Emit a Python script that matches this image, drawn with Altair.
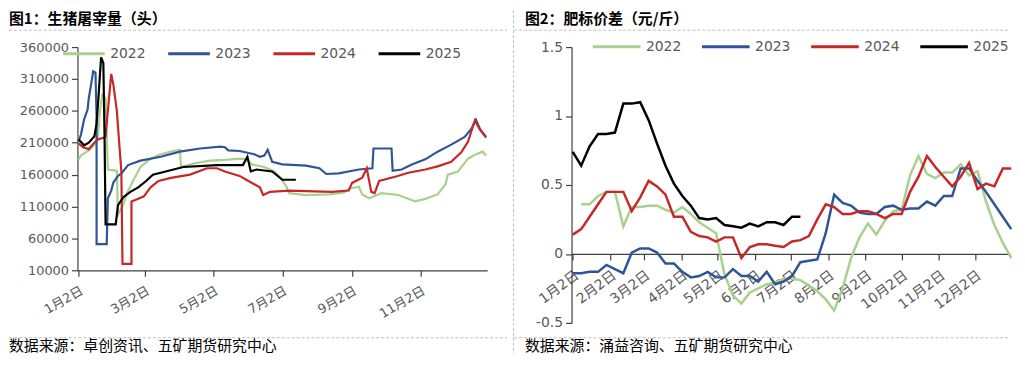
import altair as alt
import pandas as pd

years = ["2022", "2023", "2024", "2025"]
colors = ["#A9D18E", "#2F5597", "#C62828", "#000000"]

# ---------- Panel 1: slaughter volume (head), x = day offset from Jan 1 ----------
p1_tick_days = [1, 60, 121, 182, 244, 305]
p1_tick_labels = ["1月2日", "3月2日", "5月2日", "7月2日", "9月2日", "11月2日"]
p1_y_ticks = [10000, 60000, 110000, 160000, 210000, 260000, 310000, 360000]

d22_days = [1, 3, 10, 14, 18, 20, 22, 25, 27, 35, 36, 40, 45, 50, 56, 65, 74, 83, 91, 92,
            105, 118, 131, 144, 150, 155, 166, 175, 181, 186, 188, 203, 224, 237, 241, 250,
            253, 259, 270, 285, 300, 309, 320, 327, 329, 338, 347, 353, 360, 363]
d22_vals = [183000, 190000, 198000, 205000, 215000, 260000, 285000, 280000, 168000, 166000,
            97000, 110000, 135000, 152000, 172000, 185000, 192000, 196000, 199000, 172000,
            178000, 182000, 183000, 185000, 184000, 176000, 172000, 165000, 154000, 140000,
            131000, 128000, 129000, 132000, 138000, 141000, 129000, 123000, 131000, 128000,
            118000, 122000, 129000, 145000, 160000, 165000, 185000, 191000, 196000, 190000]

d23_days = [1, 3, 6, 9, 10, 12, 14, 16, 17, 17, 26, 27, 30, 32, 36, 39, 45, 56, 74, 91,
            109, 127, 131, 134, 144, 157, 162, 166, 169, 173, 182, 203, 215, 221, 232, 250,
            262, 263, 279, 280, 288, 297, 309, 320, 332, 344, 350, 354, 358, 363]
d23_vals = [212000, 222000, 247000, 262000, 279000, 300000, 322000, 320000, 250000, 51000,
            51000, 123000, 135000, 148000, 158000, 162000, 175000, 182000, 188000, 196000,
            201000, 204000, 203000, 198000, 197000, 192000, 188000, 190000, 199000, 180000,
            176000, 174000, 170000, 161000, 162000, 168000, 170000, 201000, 201000, 166000,
            168000, 176000, 184000, 196000, 207000, 219000, 232000, 246000, 230000, 218000]

d24_days = [1, 5, 10, 15, 18, 24, 25, 27, 30, 32, 35, 37, 39, 40, 48, 48, 54, 59, 65, 72,
            83, 100, 115, 124, 131, 144, 150, 162, 165, 171, 188, 203, 226, 241, 244, 253,
            257, 261, 264, 268, 283, 294, 309, 320, 332, 341, 347, 353, 357, 363]
d24_vals = [209000, 203000, 200000, 210000, 215000, 218000, 220000, 260000, 318000, 300000,
            260000, 212000, 165000, 20000, 20000, 118000, 122000, 126000, 140000, 150000,
            155000, 160000, 170000, 170000, 165000, 158000, 152000, 140000, 128000, 133000,
            135000, 134000, 133000, 135000, 147000, 155000, 170000, 133000, 131000, 150000,
            157000, 163000, 168000, 173000, 180000, 195000, 212000, 245000, 232000, 219000]

d25_days = [1, 6, 10, 15, 17, 19, 21, 23, 24, 25, 34, 36, 41, 47, 54, 61, 67, 74, 94, 124,
            147, 151, 154, 159, 173, 182, 194]
d25_vals = [215000, 206000, 210000, 220000, 240000, 290000, 344000, 335000, 230000, 82000,
            82000, 112000, 125000, 133000, 140000, 150000, 160000, 163000, 172000, 175000,
            175000, 188000, 165000, 168000, 165000, 152000, 152000]

# ---------- Panel 2: fat-standard price spread (weekly) ----------
p2_tick_days = [1, 32, 60, 91, 121, 152, 182, 213, 244, 274, 305, 335]
p2_tick_labels = ["1月2日", "2月2日", "3月2日", "4月2日", "5月2日", "6月2日",
                  "7月2日", "8月2日", "9月2日", "10月2日", "11月2日", "12月2日"]
p2_y_ticks = [-0.5, 0, 0.5, 1, 1.5]
p2_week_days = [1 + 7 * k for k in range(53)]

s22 = [None, 0.36, 0.36, 0.42, 0.45, 0.45, 0.20, 0.34, 0.34, 0.35, 0.35, 0.32, 0.30, 0.34,
       0.29, 0.23, 0.19, 0.15, -0.15, -0.30, -0.36, -0.28, -0.25, -0.22, -0.21, -0.18, -0.18,
       -0.19, -0.23, -0.27, -0.33, -0.41, -0.25, -0.03, 0.12, 0.22, 0.14, 0.24, 0.31, 0.32,
       0.57, 0.71, 0.58, 0.55, 0.59, 0.59, 0.65, 0.57, 0.60, 0.38, 0.21, 0.08, -0.03]
s23 = [-0.14, -0.14, -0.13, -0.13, -0.08, -0.11, -0.14, 0.01, 0.04, 0.04, 0.01, -0.07, -0.07,
       -0.13, -0.17, -0.16, -0.13, -0.17, -0.17, -0.11, -0.16, -0.16, -0.20, -0.13, -0.22,
       -0.20, -0.16, -0.06, -0.05, -0.04, 0.15, 0.43, 0.37, 0.35, 0.30, 0.29, 0.29, 0.34, 0.35,
       0.32, 0.33, 0.33, 0.38, 0.35, 0.42, 0.42, 0.62, 0.62, 0.53, 0.45, 0.36, 0.27, 0.18]
s24 = [0.14, 0.18, 0.27, 0.36, 0.45, 0.45, 0.45, 0.31, 0.41, 0.53, 0.49, 0.43, 0.27, 0.27,
       0.16, 0.13, 0.12, 0.09, 0.12, 0.12, -0.03, 0.05, 0.07, 0.07, 0.06, 0.05, 0.09, 0.10,
       0.13, 0.25, 0.36, 0.34, 0.29, 0.29, 0.31, 0.31, 0.29, 0.26, 0.29, 0.29, 0.45, 0.56,
       0.71, 0.63, 0.56, 0.49, 0.56, 0.66, 0.47, 0.51, 0.49, 0.62, 0.62]
s25 = [0.74, 0.64, 0.78, 0.87, 0.87, 0.88, 1.09, 1.09, 1.10, 0.97, 0.80, 0.64, 0.51, 0.42,
       0.35, 0.26, 0.25, 0.26, 0.21, 0.20, 0.19, 0.22, 0.20, 0.23, 0.23, 0.21, 0.27, 0.27]

title1 = "图1：生猪屠宰量（头）"
title2 = "图2：肥标价差（元/斤）"
source1 = "数据来源：卓创资讯、五矿期货研究中心"
source2 = "数据来源：涌益咨询、五矿期货研究中心"

NUM_FONT = "DejaVu Sans, Noto Sans CJK SC"
CJK_FONT = "Noto Sans CJK SC"
LABEL_COLOR = "#595959"
AXIS_COLOR = "#404040"
DASH_COLOR = "#BFBFBF"


def long_frame(series):
    rows = []
    for year, days, vals in series:
        for i, (d, v) in enumerate(zip(days, vals)):
            if v is None:
                continue
            rows.append({"year": year, "day": d, "value": v, "idx": i})
    return pd.DataFrame(rows)


df1 = long_frame([("2022", d22_days, d22_vals), ("2023", d23_days, d23_vals),
                  ("2024", d24_days, d24_vals), ("2025", d25_days, d25_vals)])
df2 = long_frame([("2022", p2_week_days, s22), ("2023", p2_week_days, s23),
                  ("2024", p2_week_days, s24), ("2025", p2_week_days, s25)])


def label_expr(days, labels):
    return "[" + ",".join("'%s'" % s for s in labels) + "][indexof([" + \
        ",".join(str(d) for d in days) + "], datum.value)]"


one = pd.DataFrame({"a": [0]})


def text_layer(txt, x, y, size, bold=False):
    return alt.Chart(one).mark_text(
        align="left", baseline="middle", font=CJK_FONT, fontSize=size,
        fontWeight="bold" if bold else "normal", color="#000000"
    ).encode(x=alt.value(x), y=alt.value(y), text=alt.value(txt))


def hrule(x1, x2, y):
    return alt.Chart(one).mark_rule(color=DASH_COLOR, strokeDash=[3, 2], strokeWidth=1).encode(
        x=alt.value(x1), x2=alt.value(x2), y=alt.value(y))


def vrule(x, y1, y2):
    return alt.Chart(one).mark_rule(color=DASH_COLOR, strokeDash=[3, 2], strokeWidth=1).encode(
        x=alt.value(x), y=alt.value(y1), y2=alt.value(y2))


def legend(x, y, sym, gap):
    return alt.Legend(orient="none", legendX=x, legendY=y, direction="horizontal", title=None,
                      symbolType="stroke", symbolSize=sym * sym, symbolStrokeWidth=3,
                      labelFont="DejaVu Sans", labelFontSize=14, labelColor=LABEL_COLOR,
                      labelOffset=4, columnPadding=gap, padding=0)


W1, H1 = 413, 225
W2, H2 = 442, 278

lines1 = alt.Chart(df1).mark_line(strokeWidth=2.2).encode(
    x=alt.X("day:Q", scale=alt.Scale(domain=[0, 364], nice=False, zero=False),
            axis=alt.Axis(values=p1_tick_days, labelExpr=label_expr(p1_tick_days, p1_tick_labels),
                          labelAngle=-30, labelAlign="right", labelBaseline="top",
                          labelOverlap=False, labelPadding=8, labelFontSize=13, tickSize=6,
                          title=None, grid=False)),
    y=alt.Y("value:Q", scale=alt.Scale(domain=[10000, 360000], nice=False, zero=False),
            axis=alt.Axis(values=p1_y_ticks, format="d", tickSize=6, labelPadding=3,
                          labelFontSize=13, title=None, grid=False)),
    color=alt.Color("year:N", scale=alt.Scale(domain=years, range=colors),
                    legend=legend(-16, -16, 42, 16)),
    order="idx:Q",
)

panel1 = alt.layer(
    lines1,
    vrule(-69, -37, -36),
    hrule(-69, 433, -17),
    hrule(-69, 433, 293),
    text_layer(title1, -69, -28.5, 15, bold=True),
    text_layer(source1, -69, 301, 15),
).properties(width=W1, height=H1)

lines2 = alt.Chart(df2).mark_line(strokeWidth=2.5).encode(
    x=alt.X("day:Q", scale=alt.Scale(domain=[0, 364], nice=False, zero=False),
            axis=alt.Axis(values=p2_tick_days, labelExpr=label_expr(p2_tick_days, p2_tick_labels),
                          labelAngle=-37, labelAlign="right", labelBaseline="top",
                          labelOverlap=False, labelPadding=8, labelFontSize=14, tickSize=6,
                          offset=-69.5, title=None, grid=False)),
    y=alt.Y("value:Q", scale=alt.Scale(domain=[-0.5, 1.5], nice=False, zero=False),
            axis=alt.Axis(values=p2_y_ticks, labelExpr="toString(datum.value)", tickSize=6,
                          labelPadding=3, labelFontSize=14, title=None, grid=False)),
    color=alt.Color("year:N", scale=alt.Scale(domain=years, range=colors),
                    legend=legend(20, -26, 48, 14)),
    order="idx:Q",
)

panel2 = alt.layer(
    lines2,
    vrule(-58.5, -37, 309),
    hrule(-58, 442, -17),
    hrule(-58, 442, 293),
    text_layer(title2, -47, -28.5, 15, bold=True),
    text_layer(source2, -47, 301, 15),
).properties(width=W2, height=H2)

chart = alt.hconcat(panel1, panel2, spacing=85, bounds="flush").resolve_scale(
    color="independent"
).resolve_legend(color="independent").properties(
    padding=0, background="#FFFFFF"
).configure_view(stroke=None).configure_axis(
    labelFont=NUM_FONT, labelColor=LABEL_COLOR, domainColor=AXIS_COLOR, tickColor=AXIS_COLOR,
    domainWidth=1.2, tickWidth=1.2
)

chart.save("out.html", embed_options={"renderer": "svg", "actions": False})
